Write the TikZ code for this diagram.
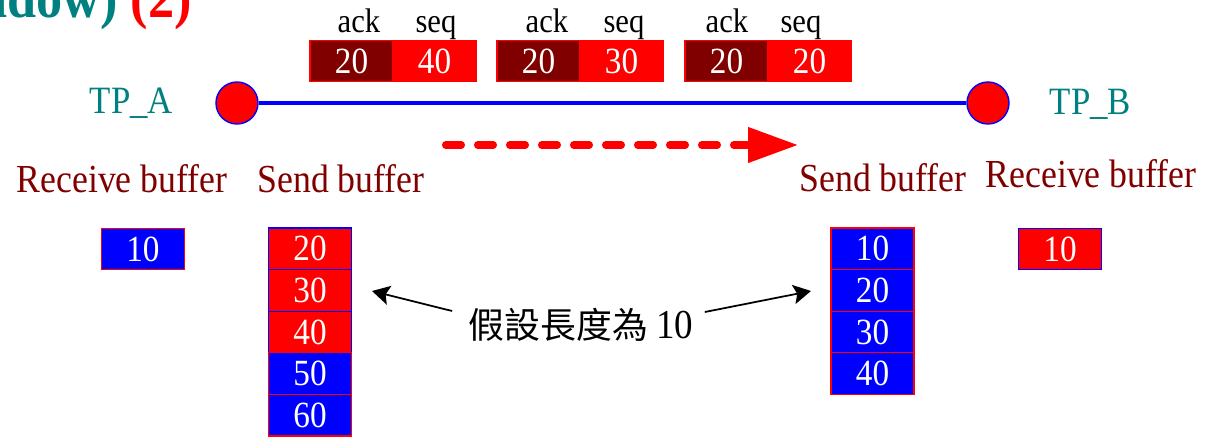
\documentclass[tikz,border=0pt]{standalone}
\usepackage{fontspec}
\setmainfont{Liberation Serif}[FakeStretch=0.9]
\newfontfamily\cjk{Noto Sans CJK TC}
\usetikzlibrary{arrows.meta}
\usetikzlibrary{calc}
\definecolor{darkred}{RGB}{128,0,0}
\definecolor{tpteal}{RGB}{0,128,128}
\tikzset{
	cell/.style={minimum width=0.83cm, minimum height=0.416cm, inner sep=0pt, line width=0.3pt, text=white, font=\fontsize{10.5}{12}\selectfont},
	redcell/.style={cell, fill=red, draw=blue},
	bluecell/.style={cell, fill=blue, draw=red},
	ackcell/.style={cell, fill=darkred, draw=red},
	hdr/.style={anchor=base, font=\fontsize{9.7}{11}\selectfont},
	tp/.style={circle, fill=red, draw=blue, line width=0.4pt, minimum size=0.42cm, inner sep=0pt},
	tplabel/.style={anchor=base, text=tpteal, font=\fontsize{11}{13}\selectfont},
	buflabel/.style={anchor=base, text=darkred, font=\fontsize{11.3}{13}\selectfont}
}

\begin{document}
\begin{tikzpicture}[x=0.01cm, y=-0.01cm]
	% page: 1214 x 439, one unit per pixel
	\useasboundingbox (0, 0) rectangle (1214, 439);
	\node[anchor=base east, font=\fontsize{16.5}{18}\selectfont\bfseries] (title) at (204, 17) {\textcolor{tpteal}{Window)} \textcolor{red}{(2)}};

	% segments on the wire
	\node[ackcell] (ack1) at (351.5, 61) {20};
	\node[redcell, draw=red] (seq1) at (434.5, 61) {40};
	\node[ackcell] (ack2) at (538.5, 61) {20};
	\node[redcell, draw=red] (seq2) at (621.5, 61) {30};
	\node[ackcell] (ack3) at (726.5, 61) {20};
	\node[redcell, draw=red] (seq3) at (809.5, 61) {20};
	\node[hdr] (ackl1) at (359, 32) {ack};
	\node[hdr] (seql1) at (436, 32) {seq};
	\node[hdr] (ackl2) at (547, 32) {ack};
	\node[hdr] (seql2) at (624, 32) {seq};
	\node[hdr] (ackl3) at (727, 32) {ack};
	\node[hdr] (seql3) at (801, 32) {seq};

	% the two ends
	\node[tp] (tpa) at (237, 103) {};
	\node[tp] (tpb) at (988, 103) {};
	\draw[blue, line width=1.2pt] (tpa) -- (tpb);
	\node[tplabel] (tpal) at (131.5, 113) {TP\_A};
	\node[tplabel] (tpbl) at (1090.5, 114) {TP\_B};

	% direction of sending
	\coordinate (dstart) at (445.5, 145);
	\coordinate (dend) at (798, 145);
	\draw[red, line width=2pt, dash pattern=on 4.55pt off 4.55pt, line cap=round, -{Triangle[length=14.2pt, width=9.7pt]}] (dstart) -- (dend);

	% buffer titles
	\node[buflabel] (recal) at (122, 192) {Receive buffer};
	\node[buflabel] (sendal) at (341, 192) {Send buffer};
	\node[buflabel] (sendbl) at (883, 191) {Send buffer};
	\node[buflabel] (recbl) at (1091, 187) {Receive buffer};

	% TP_A buffers
	\node[bluecell] (reca1) at (143, 249) {10};
	\node[redcell] (senda1) at (310, 248.8) {20};
	\node[redcell] (senda2) at (310, 290.4) {30};
	\node[redcell] (senda3) at (310, 332) {40};
	\node[bluecell] (senda4) at (310, 373.6) {50};
	\node[bluecell] (senda5) at (310, 415.2) {60};

	% TP_B buffers
	\node[bluecell] (sendb1) at (872.5, 248.8) {10};
	\node[bluecell] (sendb2) at (872.5, 290.4) {20};
	\node[bluecell] (sendb3) at (872.5, 332) {30};
	\node[bluecell] (sendb4) at (872.5, 373.6) {40};
	\node[redcell] (recb1) at (1060, 249) {10};

	% window length
	\node[inner sep=0pt] (winlen) at (581, 325) {{\cjk\fontsize{10.2}{12}\selectfont 假設長度為} {\fontsize{11.7}{13}\selectfont 10}};
	\coordinate (tipa) at (372, 291);
	\coordinate (tipb) at (811, 291);
	\draw[line width=0.5pt, -{Stealth[length=5pt, width=5.5pt, inset=1pt]}] ($(winlen.west)+(-16, -14)$) -- (tipa);
	\draw[line width=0.5pt, -{Stealth[length=5pt, width=5.5pt, inset=1pt]}] ($(winlen.east)+(11, -13)$) -- (tipb);
\end{tikzpicture}
\end{document}
